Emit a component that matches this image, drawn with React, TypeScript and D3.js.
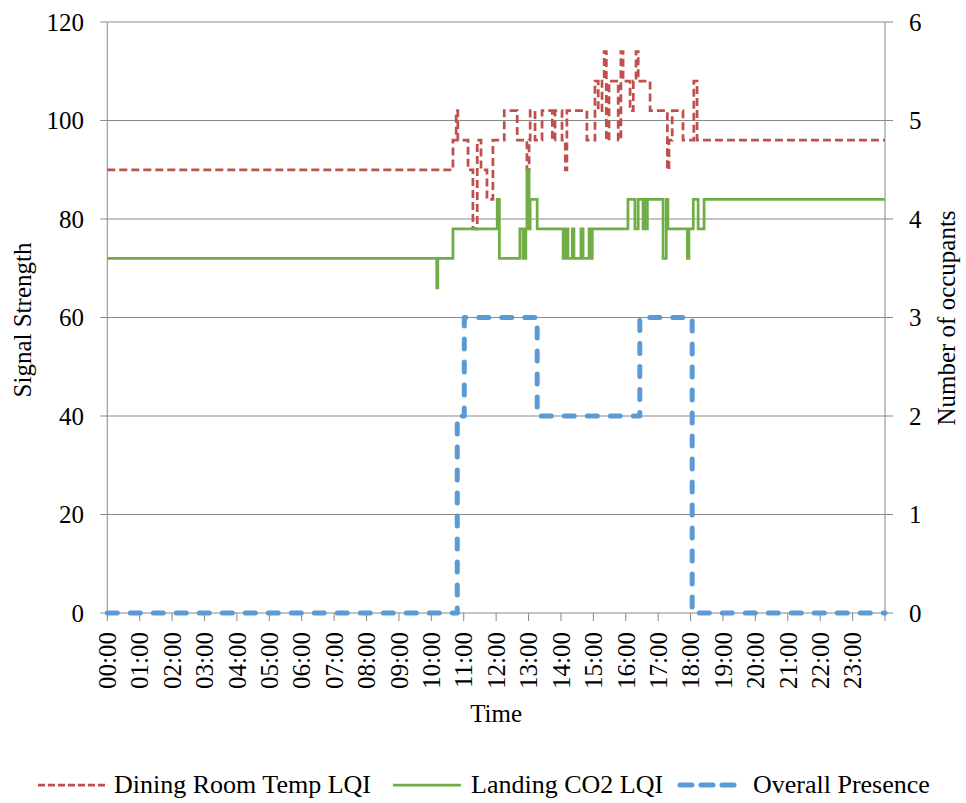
import React from "react";
import * as d3 from "d3";

// ---------- data ----------
const hourLabels = [
  "00:00","01:00","02:00","03:00","04:00","05:00","06:00","07:00","08:00","09:00","10:00","11:00",
  "12:00","13:00","14:00","15:00","16:00","17:00","18:00","19:00","20:00","21:00","22:00","23:00",
];
const leftTicks = [0, 20, 40, 60, 80, 100, 120];
const rightTicks = [0, 1, 2, 3, 4, 5, 6];

const tempTimes = [
  "00:00","10:40","10:46","10:49","11:08","11:17","11:25","11:32","11:43","11:54","12:15","12:39",
  "12:57","13:01","13:03","13:12","13:25","13:44","13:49","14:02","14:08","14:11","14:48","15:03",
  "15:09","15:16","15:20","15:24","15:29","15:46","15:51","15:55","16:08","16:14","16:19","16:23",
  "16:45","17:17","17:20","17:26","17:46","18:06","18:12","24:00",
];
const tempValues = [
  90, 96, 102, 96, 90, 78, 96, 90, 84, 96, 102, 96,
  90, 96, 102, 96, 102, 96, 102, 96, 90, 102, 96, 108,
  102, 108, 114, 96, 108, 96, 114, 108, 102, 108, 114, 108,
  102, 90, 96, 102, 96, 108, 96, 96,
];

const co2Times = [
  "00:00","10:10","10:12","10:40","12:02","12:06","12:44","12:50","12:55","12:57","13:01","13:03",
  "13:16","14:04","14:09","14:13","14:21","14:24","14:37","14:41","14:52","14:54","14:58","16:04",
  "16:17","16:23","16:32","16:34","16:37","16:40","17:09","17:15","17:18","17:54","17:57","18:05",
  "18:14","18:25","24:00",
];
const co2Values = [
  72, 66, 72, 78, 84, 72, 78, 72, 78, 90, 78, 84,
  78, 72, 78, 72, 78, 72, 78, 72, 78, 72, 78, 84,
  78, 84, 78, 84, 78, 84, 72, 84, 78, 72, 78, 84,
  78, 84, 84,
];

const presenceTimes = ["00:00", "10:48", "11:01", "13:16", "16:26", "18:03", "24:00"];
const presenceValues = [0, 2, 3, 2, 3, 0, 0];

const seriesNames = ["Dining Room Temp LQI", "Landing CO2 LQI", "Overall Presence"];

// ---------- layout ----------
const W = 966;
const H = 803;
const M = { left: 107.3, right: 885, top: 22, bottom: 613 };
const FONT = "'Liberation Serif', 'Times New Roman', 'DejaVu Serif', serif";
const GRID = "#898989";
const RED = "#C0504D";
const GREEN = "#70AD47";
const BLUE = "#5B9BD5";

const toHours = (s: string) => {
  const [h, m] = s.split(":").map(Number);
  return h + m / 60;
};

export default function App() {
  const x = d3.scaleLinear().domain([0, 24]).range([M.left, M.right]);
  const yL = d3.scaleLinear().domain([0, 120]).range([M.bottom, M.top]);
  const yR = d3.scaleLinear().domain([0, 6]).range([M.bottom, M.top]);

  const mk = (times: string[], vals: number[]) => times.map((t, i) => [toHours(t), vals[i]] as [number, number]);

  const lineL = d3
    .line<[number, number]>()
    .x((d) => x(d[0]))
    .y((d) => yL(d[1]))
    .curve(d3.curveStepAfter);
  const lineR = d3
    .line<[number, number]>()
    .x((d) => x(d[0]))
    .y((d) => yR(d[1]))
    .curve(d3.curveStepAfter);

  const tempPath = lineL(mk(tempTimes, tempValues)) || "";
  const co2Path = lineL(mk(co2Times, co2Values)) || "";
  const presPath = lineR(mk(presenceTimes, presenceValues)) || "";

  const legendY = 785;

  return (
    <svg
      width={W}
      height={H}
      style={{ position: "absolute", left: 0, top: 0, background: "#fff" }}
      fontFamily={FONT}
    >
      <rect x={0} y={0} width={W} height={H} fill="#fff" />
      {/* gridlines */}
      {leftTicks.map((t) => (
        <line key={"g" + t} x1={M.left} x2={M.right} y1={yL(t)} y2={yL(t)} stroke={GRID} strokeWidth={1} />
      ))}
      {/* left axis */}
      <line x1={M.left} x2={M.left} y1={M.top} y2={M.bottom} stroke={GRID} strokeWidth={1} />
      {leftTicks.map((t) => (
        <g key={"l" + t}>
          <line x1={M.left - 7} x2={M.left} y1={yL(t)} y2={yL(t)} stroke={GRID} strokeWidth={1} />
          <text x={84} y={yL(t)} dy="0.35em" textAnchor="end" fontSize={25} fill="#000">
            {t}
          </text>
        </g>
      ))}
      {/* right axis */}
      <line x1={M.right} x2={M.right} y1={M.top} y2={M.bottom} stroke={GRID} strokeWidth={1} />
      {rightTicks.map((t) => (
        <g key={"r" + t}>
          <line x1={M.right} x2={M.right + 8} y1={yR(t)} y2={yR(t)} stroke={GRID} strokeWidth={1} />
          <text x={909} y={yR(t)} dy="0.35em" textAnchor="start" fontSize={25} fill="#000">
            {t}
          </text>
        </g>
      ))}
      {/* x axis */}
      {d3.range(0, 25).map((h) => (
        <line key={"xt" + h} x1={x(h)} x2={x(h)} y1={M.bottom} y2={M.bottom + 8} stroke={GRID} strokeWidth={1} />
      ))}
      {hourLabels.map((lab, i) => (
        <text
          key={lab}
          transform={`translate(${x(i)},${632}) rotate(-90)`}
          dy="0.35em"
          textAnchor="end"
          fontSize={25}
          fill="#000"
        >
          {lab}
        </text>
      ))}
      {/* axis titles */}
      <text x={(M.left + M.right) / 2} y={722} textAnchor="middle" fontSize={25} fill="#000">
        Time
      </text>
      <text transform={`translate(31,${320}) rotate(-90)`} textAnchor="middle" fontSize={25} fill="#000">
        Signal Strength
      </text>
      <text transform={`translate(955,${318}) rotate(-90)`} textAnchor="middle" fontSize={25} fill="#000">
        Number of occupants
      </text>

      {/* series */}
      <path d={tempPath} fill="none" stroke={RED} strokeWidth={2.75} strokeDasharray="8,4" />
      <path d={co2Path} fill="none" stroke={GREEN} strokeWidth={2.75} />
      <path
        d={presPath}
        fill="none"
        stroke={BLUE}
        strokeWidth={5}
        strokeDasharray="10,13"
        strokeLinecap="round"
        strokeLinejoin="round"
      />
      <line x1={M.left} x2={M.left} y1={yL(0) - 1} y2={yL(0) + 1} stroke="none" />

      {/* legend */}
      <g fontSize={26} fill="#000">
        <line x1={38} x2={106} y1={legendY} y2={legendY} stroke={RED} strokeWidth={2.75} strokeDasharray="7,3" />
        <text x={114} y={793}>{seriesNames[0]}</text>
        <line x1={393} x2={461} y1={legendY} y2={legendY} stroke={GREEN} strokeWidth={2.75} />
        <text x={471} y={793}>{seriesNames[1]}</text>
        <line
          x1={680}
          x2={739}
          y1={legendY}
          y2={legendY}
          stroke={BLUE}
          strokeWidth={5}
          strokeDasharray="12,9"
          strokeLinecap="round"
        />
        <text x={753} y={793}>{seriesNames[2]}</text>
      </g>
    </svg>
  );
}
